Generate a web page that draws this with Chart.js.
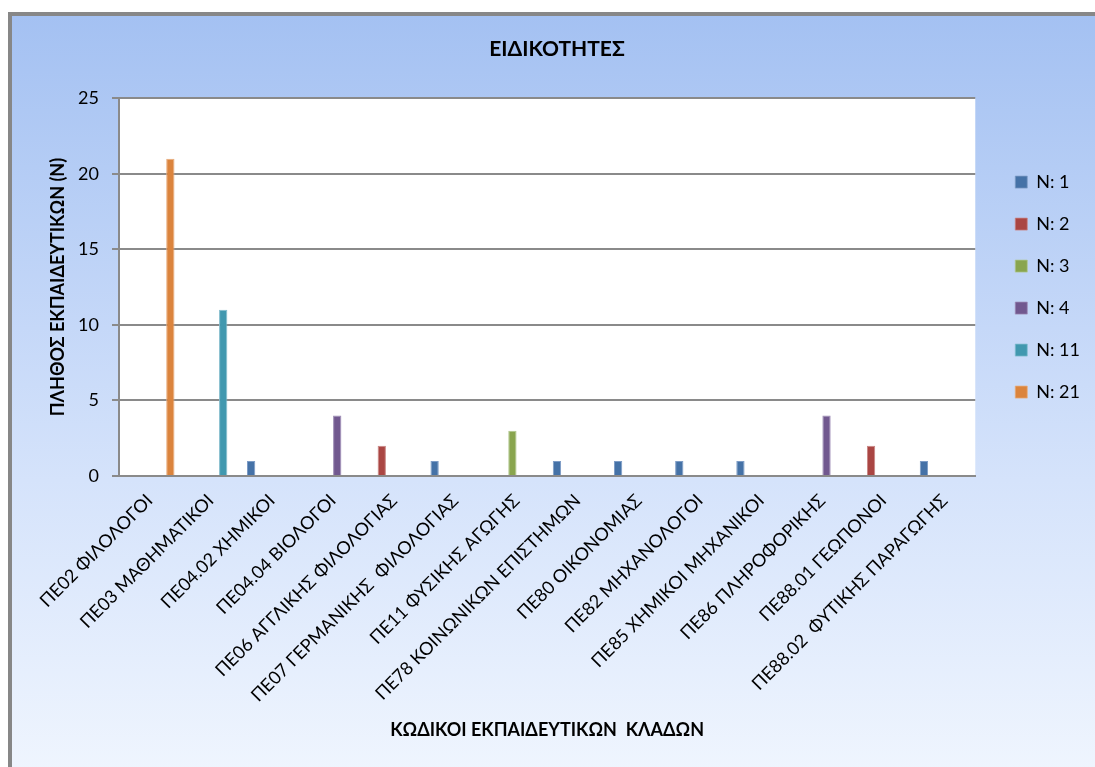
<!DOCTYPE html>
<html>
<head>
<meta charset="utf-8">
<script src="https://cdn.jsdelivr.net/npm/chart.js@4/dist/chart.umd.min.js"></script>
<style>
  html, body { margin: 0; padding: 0; background: #ffffff; overflow: hidden; }
  #frame {
    position: absolute; left: 8px; top: 12px;
    width: 1200px; height: 800px;
    border: 4px solid #878787;
    background: linear-gradient(to bottom, #a4c1f2 0px, #d5e3fb 464px, #eff5fe 755px);
  }
  #wrap { position: absolute; left: 0; top: 0; width: 1095px; height: 767px; }
</style>
</head>
<body>
<div id="frame"></div>
<div id="wrap"><canvas id="chart" width="1095" height="767"></canvas></div>
<script>
// Teaching specialties (subject codes) and number of teachers in each
const categories = [
  'ΠΕ02 ΦΙΛΟΛΟΓΟΙ',
  'ΠΕ03 ΜΑΘΗΜΑΤΙΚΟΙ',
  'ΠΕ04.02 ΧΗΜΙΚΟΙ',
  'ΠΕ04.04 ΒΙΟΛΟΓΟΙ',
  'ΠΕ06 ΑΓΓΛΙΚΗΣ ΦΙΛΟΛΟΓΙΑΣ',
  'ΠΕ07 ΓΕΡΜΑΝΙΚΗΣ  ΦΙΛΟΛΟΓΙΑΣ',
  'ΠΕ11 ΦΥΣΙΚΗΣ ΑΓΩΓΗΣ',
  'ΠΕ78 ΚΟΙΝΩΝΙΚΩΝ ΕΠΙΣΤΗΜΩΝ',
  'ΠΕ80 ΟΙΚΟΝΟΜΙΑΣ',
  'ΠΕ82 ΜΗΧΑΝΟΛΟΓΟΙ',
  'ΠΕ85 ΧΗΜΙΚΟΙ ΜΗΧΑΝΙΚΟΙ',
  'ΠΕ86 ΠΛΗΡΟΦΟΡΙΚΗΣ',
  'ΠΕ88.01 ΓΕΩΠΟΝΟΙ',
  'ΠΕ88.02  ΦΥΤΙΚΗΣ ΠΑΡΑΓΩΓΗΣ'
];

// One series per group size; a specialty appears only in the series of its count
const seriesN1  = [null, null, 1, null, null, 1, null, 1, 1, 1, 1, null, null, 1];
const seriesN2  = [null, null, null, null, 2, null, null, null, null, null, null, null, 2, null];
const seriesN3  = [null, null, null, null, null, null, 3, null, null, null, null, null, null, null];
const seriesN4  = [null, null, null, 4, null, null, null, null, null, null, null, 4, null, null];
const seriesN11 = [null, 11, null, null, null, null, null, null, null, null, null, null, null, null];
const seriesN21 = [21, null, null, null, null, null, null, null, null, null, null, null, null, null];

const seriesNames = ['N: 1', 'N: 2', 'N: 3', 'N: 4', 'N: 11', 'N: 21'];
const seriesColors = ['#4572a7', '#aa4643', '#89a54e', '#71588f', '#4198af', '#db843d'];
const seriesBorders = ['#7d9cc6', '#c98684', '#b0c78d', '#9c8ab4', '#82bccd', '#e8ac7c'];
const yTicks = [0, 5, 10, 15, 20, 25];

const FONT = 'Lato, "Open Sans", "DejaVu Sans", sans-serif';
const GRID = '#8a8a8a';

const seriesValues = [seriesN1, seriesN2, seriesN3, seriesN4, seriesN11, seriesN21];
const datasets = seriesNames.map((name, i) => ({
  label: name,
  data: seriesValues[i],
  backgroundColor: seriesColors[i],
  borderColor: seriesBorders[i],
  borderWidth: { left: 1, right: 1, top: 1, bottom: 0 },
  categoryPercentage: 0.815,
  barPercentage: 1.0,
  yAxisID: 'y'
}));

// White plot area on top of the tinted frame
const plotBackground = {
  id: 'plotBackground',
  beforeDraw(chart) {
    const { ctx, chartArea: a } = chart;
    ctx.save();
    ctx.fillStyle = '#ffffff';
    ctx.fillRect(a.left, a.top, a.right - a.left, a.bottom - a.top);
    ctx.restore();
  }
};

new Chart(document.getElementById('chart'), {
  type: 'bar',
  data: { labels: categories, datasets },
  plugins: [plotBackground],
  options: {
    responsive: false,
    devicePixelRatio: 1,
    animation: false,
    layout: { padding: { left: 24, right: 5, top: 0, bottom: 0 } },
    plugins: {
      title: {
        display: true,
        text: 'ΕΙΔΙΚΟΤΗΤΕΣ',
        color: '#000000',
        font: { family: FONT, size: 21, weight: 'bold', lineHeight: 1.2 },
        padding: { top: 37, bottom: 36 }
      },
      legend: {
        position: 'right',
        fullSize: false,
        labels: {
          color: '#000000',
          font: { family: FONT, size: 18 },
          boxWidth: 12,
          boxHeight: 12,
          padding: 24
        }
      },
      tooltip: { enabled: false }
    },
    scales: {
      x: {
        grid: { display: false },
        border: { display: true, color: GRID, width: 2 },
        ticks: {
          color: '#000000',
          font: { family: FONT, size: 18 },
          autoSkip: false,
          maxRotation: 45,
          minRotation: 45,
          padding: 6
        },
        title: {
          display: true,
          text: 'ΚΩΔΙΚΟΙ ΕΚΠΑΙΔΕΥΤΙΚΩΝ  ΚΛΑΔΩΝ',
          color: '#000000',
          font: { family: FONT, size: 18, weight: 'bold', lineHeight: 1.2 },
          padding: { top: 0, bottom: 26 }
        },
        afterFit(scale) { scale.height = 291; }
      },
      y: {
        position: 'left',
        min: yTicks[0],
        max: yTicks[yTicks.length - 1],
        afterBuildTicks(scale) { scale.ticks = yTicks.map(v => ({ value: v })); },
        grid: { color: GRID, lineWidth: 2, tickLength: 7, drawTicks: true },
        border: { display: true, color: GRID, width: 2 },
        ticks: {
          color: '#000000',
          font: { family: FONT, size: 18 },
          padding: 13
        },
        title: {
          display: true,
          text: 'ΠΛΗΘΟΣ ΕΚΠΑΙΔΕΥΤΙΚΩΝ (N)',
          color: '#000000',
          font: { family: FONT, size: 18, weight: 'bold', lineHeight: 1.2 },
          padding: { top: 23, bottom: 0 }
        },
        afterFit(scale) { scale.width = 95; }
      },
      // narrow empty gutter between the plot and the legend
      gutter: {
        type: 'linear',
        position: 'right',
        display: true,
        grid: { display: false, drawTicks: false },
        border: { display: false },
        ticks: { display: false },
        afterFit(scale) { scale.width = 16; }
      }
    }
  }
});
</script>
</body>
</html>
